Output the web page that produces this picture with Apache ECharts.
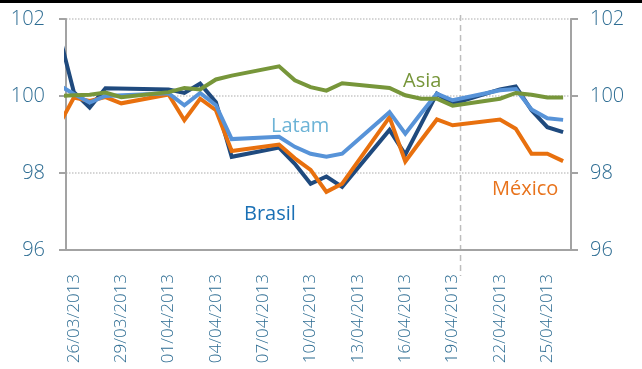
<!DOCTYPE html>
<html>
<head>
<meta charset="utf-8">
<script src="https://cdn.jsdelivr.net/npm/echarts@6/dist/echarts.min.js"></script>
<style>
html,body{margin:0;padding:0;background:#fff;}
#chart{width:642px;height:369px;}
</style>
</head>
<body>
<div id="chart"></div>
<script>
// First entry (25/03) lies just left of the plot and is clipped; base 26/03 = 100
const dates = ['25/03/2013','26/03/2013','27/03/2013','28/03/2013','29/03/2013','30/03/2013','31/03/2013',
  '01/04/2013','02/04/2013','03/04/2013','04/04/2013','05/04/2013','06/04/2013','07/04/2013',
  '08/04/2013','09/04/2013','10/04/2013','11/04/2013','12/04/2013','13/04/2013','14/04/2013',
  '15/04/2013','16/04/2013','17/04/2013','18/04/2013','19/04/2013','20/04/2013','21/04/2013',
  '22/04/2013','23/04/2013','24/04/2013','25/04/2013','26/04/2013'];
const brasil = [101.7,100.1,99.7,100.2,null,null,null,100.17,100.08,100.32,99.84,98.42,null,null,
  98.66,98.24,97.72,97.91,97.64,null,null,99.12,98.48,99.27,100.06,99.8,null,null,100.17,100.25,99.63,99.19,99.06];
const latam = [100.3,100.05,99.83,100.0,null,null,null,100.07,99.76,100.08,99.76,98.88,null,null,
  98.94,98.68,98.5,98.42,98.5,null,null,99.58,99.02,99.55,100.06,99.89,null,null,100.15,100.18,99.65,99.42,99.38];
const mexico = [99.2,99.96,99.87,99.97,99.81,null,null,100.04,99.37,99.93,99.63,98.57,null,null,
  98.74,98.38,98.08,97.51,97.72,null,null,99.45,98.3,98.85,99.39,99.24,null,null,99.39,99.15,98.5,98.5,98.31];
const asia = [100.0,100.02,100.03,100.09,99.97,null,null,100.1,100.21,100.17,100.43,100.53,null,null,
  100.77,100.41,100.23,100.14,100.33,null,null,100.21,100.02,99.93,99.93,99.75,null,null,99.93,100.08,100.03,99.96,99.96];
const yTicks = [96, 98, 100, 102];
const markerDate = '20/04/2013';
const seriesNames = ['Brasil','México','Latam','Asia'];

const axisDates = dates.slice(1);
function pts(arr){
  const out = [];
  arr.forEach((v,k)=>{ if(v!==null) out.push([k-0.5, v]); });
  return out;
}
const colors = {Brasil:'#1f4a7e', 'México':'#e8700e', Latam:'#5793d8', Asia:'#77963a'};
const values = {Brasil:brasil, 'México':mexico, Latam:latam, Asia:asia};
const axisGray = '#a3a3a3';
const txt = '#2e6d93';
const font = 'Open Sans';

const chart = echarts.init(document.getElementById('chart'), null, {renderer:'canvas'});
chart.setOption({
  animation:false,
  grid:{left:66, right:71, top:19, bottom:119, containLabel:false, outerBoundsMode:'none'},
  xAxis:[{
    type:'category', data:axisDates, boundaryGap:true,
    axisLine:{lineStyle:{color:axisGray, width:2}},
    axisTick:{interval:2, length:7, lineStyle:{color:axisGray, width:2}},
    axisLabel:{interval:2, rotate:90, margin:24, fontSize:17, fontWeight:300, fontFamily:font, color:txt},
    splitLine:{show:false}
  },{
    type:'value', min:0, max:axisDates.length, show:false
  }],
  yAxis:[{
    type:'value', min:yTicks[0], max:yTicks[yTicks.length-1], interval:2, position:'left',
    axisLine:{show:true, lineStyle:{color:axisGray, width:2}},
    axisTick:{show:true, length:7, lineStyle:{color:axisGray, width:2}},
    axisLabel:{margin:21, fontSize:20, fontWeight:300, fontFamily:font, color:txt},
    splitLine:{show:true, lineStyle:{color:'#c8c8c8', type:'dotted', width:1.5}}
  },{
    type:'value', min:yTicks[0], max:yTicks[yTicks.length-1], interval:2, position:'right',
    axisLine:{show:true, lineStyle:{color:axisGray, width:2}},
    axisTick:{show:true, length:7, lineStyle:{color:axisGray, width:2}},
    axisLabel:{margin:19, fontSize:20, fontWeight:300, fontFamily:font, color:txt},
    splitLine:{show:false}
  }],
  series: seriesNames.map(n=>({
    name:n, type:'line', xAxisIndex:1, yAxisIndex:0, data:pts(values[n]),
    showSymbol:false, clip:true,
    lineStyle:{color:colors[n], width:4, join:'miter'},
    itemStyle:{color:colors[n]}
  }))
});

const mk = dates.indexOf(markerDate) - 1;
const mx = chart.convertToPixel({xAxisIndex:1}, mk);
const lbl = (text, x, y, color) => ({type:'text', style:{text, x, y, fill:color, fontSize:20, fontFamily:font, verticalAlign:'middle', textVerticalAlign:'middle'}});
chart.setOption({
  graphic:[
    {type:'rect', shape:{x:0, y:0, width:642, height:3}, style:{fill:'#000'}},
    {type:'line', shape:{x1:mx, y1:15, x2:mx, y2:276}, style:{stroke:'#bdbdbd', lineWidth:1.5, lineDash:[6,4]}, z:-1},
    lbl('Asia', 403, 81, '#77963a'),
    lbl('Latam', 271, 126, '#6cb3d6'),
    lbl('Brasil', 244, 214, '#1a70b5'),
    lbl('México', 492, 189, '#e8731c')
  ]
});
</script>
</body>
</html>
